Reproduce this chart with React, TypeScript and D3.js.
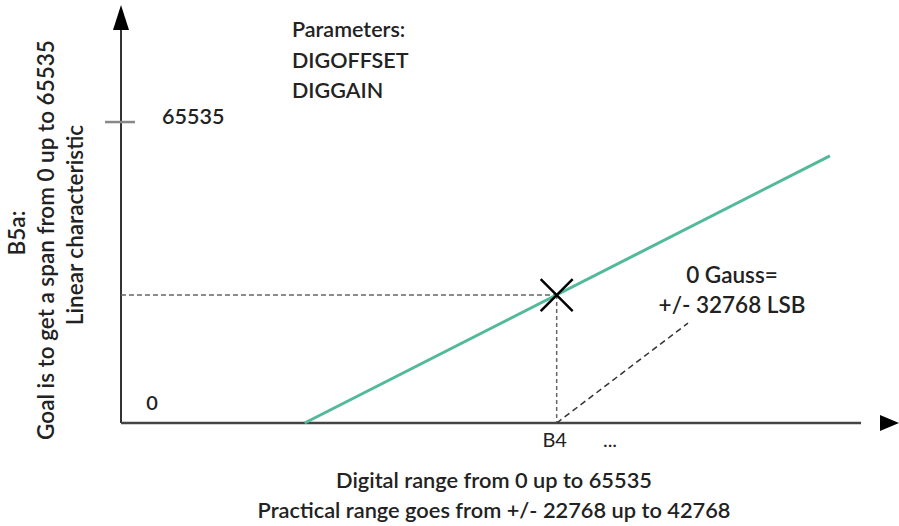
import React from "react";
import * as d3 from "d3";

// conceptual units (x: 0..100 along the axis, y: 0..100 up the axis)
const lineStart = [24.2, 0];
const lineEnd = [93.4, 63.9];
const markerPoint = [57.4, 30.6];
const noteLineEnd = [74.7, 23.9];
const yTickValue = 72;
const yTickLabels = ["0", "65535"];
const xTickLabels = ["B4", "..."];
const paramLines = ["Parameters:", "DIGOFFSET", "DIGGAIN"];
const noteLines = ["0 Gauss=", "+/- 32768 LSB"];
const xTitleLines = [
  "Digital range from 0 up to 65535",
  "Practical range goes from +/- 22768 up to 42768",
];
const yTitleLines = [
  "B5a:",
  "Goal is to get a span from 0 up to 65535",
  "Linear characteristic",
];

const width = 899;
const height = 526;
const font = "Lato, 'Open Sans', sans-serif";
const textColor = "#222";

const App: React.FC = () => {
  const x = d3.scaleLinear().domain([0, 100]).range([121, 880]);
  const y = d3.scaleLinear().domain([0, 100]).range([423, 5]);

  const lineGen = d3
    .line<number[]>()
    .x((d) => x(d[0]))
    .y((d) => y(d[1]));

  const mx = x(markerPoint[0]);
  const my = y(markerPoint[1]);
  const ms = 16;

  return (
    <svg
      width={width}
      height={height}
      style={{ position: "absolute", left: 0, top: 0, background: "#fff" }}
    >
      {/* axes */}
      <line x1={x(0)} y1={y(0)} x2={x(0)} y2={y(94)} stroke="#333" strokeWidth={2} />
      <path
        d={`M${x(0)},${y(100)} L${x(0) - 8},${y(100) + 25} L${x(0) + 8},${y(100) + 25} Z`}
        fill="#000"
      />
      <line x1={x(0)} y1={y(0)} x2={x(97.5)} y2={y(0)} stroke="#444" strokeWidth={2.5} />
      <path
        d={`M${x(100) + 19},${y(0)} L${x(100)},${y(0) - 8} L${x(100)},${y(0) + 8} Z`}
        fill="#000"
      />

      {/* y tick */}
      <line
        x1={x(0) - 16}
        x2={x(0) + 14}
        y1={y(yTickValue)}
        y2={y(yTickValue)}
        stroke="#888"
        strokeWidth={2.5}
      />

      {/* dashed guides */}
      <line
        x1={x(0)}
        x2={mx}
        y1={my}
        y2={my}
        stroke="#666"
        strokeWidth={1.5}
        strokeDasharray="5,3"
      />
      <line
        x1={mx}
        x2={mx}
        y1={my}
        y2={y(0)}
        stroke="#666"
        strokeWidth={1.5}
        strokeDasharray="4,3"
      />
      <line
        x1={mx}
        y1={y(0)}
        x2={x(noteLineEnd[0])}
        y2={y(noteLineEnd[1])}
        stroke="#333"
        strokeWidth={1.5}
        strokeDasharray="6,4"
      />

      {/* characteristic */}
      <path
        d={lineGen([lineStart, lineEnd]) || ""}
        fill="none"
        stroke="#52b99b"
        strokeWidth={3}
      />

      {/* marker */}
      <path
        d={`M${mx - ms},${my - ms} L${mx + ms},${my + ms} M${mx - ms},${my + ms} L${mx + ms},${my - ms}`}
        stroke="#000"
        strokeWidth={2.5}
      />

      <g fontFamily={font} fontWeight={600} fill={textColor}>
        {/* y tick labels */}
        <text x={152} y={405} fontSize={20} textAnchor="middle" dominantBaseline="middle">
          {yTickLabels[0]}
        </text>
        <text x={162} y={y(yTickValue) - 4} fontSize={21.5} dominantBaseline="middle">
          {yTickLabels[1]}
        </text>

        {/* x tick labels */}
        <text x={mx - 2} y={442} fontSize={20} fontWeight={400} textAnchor="middle" dominantBaseline="middle">
          {xTickLabels[0]}
        </text>
        <text x={610} y={442} fontSize={20} fontWeight={400} textAnchor="middle" dominantBaseline="middle">
          {xTickLabels[1]}
        </text>

        {/* parameters */}
        {paramLines.map((t, i) => (
          <text key={t} x={292} y={32 + i * 30.5} fontSize={21.5} dominantBaseline="middle">
            {t}
          </text>
        ))}

        {/* note */}
        {noteLines.map((t, i) => (
          <text
            key={t}
            x={732}
            y={277 + i * 30}
            fontSize={22.5}
            textAnchor="middle"
            dominantBaseline="middle"
          >
            {t}
          </text>
        ))}

        {/* x title */}
        {xTitleLines.map((t, i) => (
          <text
            key={t}
            x={494}
            y={482 + i * 30}
            fontSize={21.8}
            textAnchor="middle"
            dominantBaseline="middle"
          >
            {t}
          </text>
        ))}

        {/* y title */}
        {yTitleLines.map((t, i) => (
          <text
            key={t}
            transform={`translate(${19 + i * 29},${[233, 240, 225][i]}) rotate(-90)`}
            fontSize={22.5}
            textAnchor="middle"
            dominantBaseline="middle"
          >
            {t}
          </text>
        ))}
      </g>
    </svg>
  );
};

export default App;
